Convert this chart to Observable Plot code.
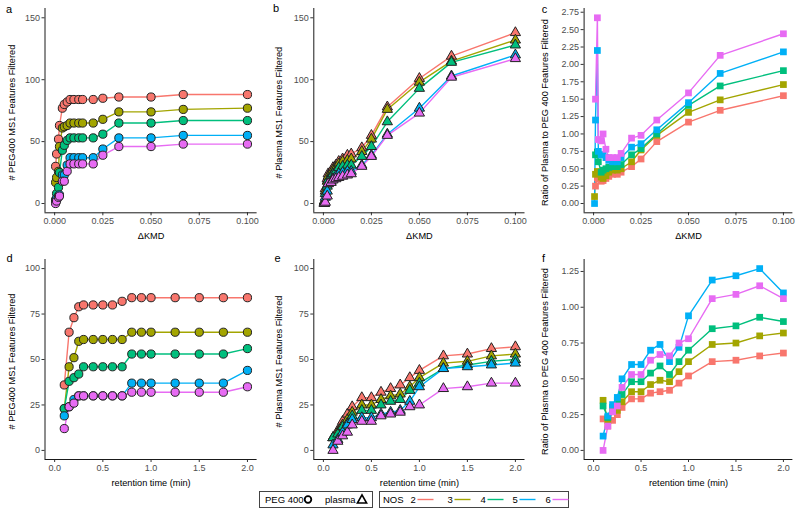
<!DOCTYPE html>
<html><head><meta charset="utf-8">
<script src="https://cdn.jsdelivr.net/npm/d3@7"></script>
<script src="https://cdn.jsdelivr.net/npm/@observablehq/plot@0.6"></script>
<style>
html,body{margin:0;padding:0;background:#fff;}
#chart{position:relative;width:800px;height:513px;background:#fff;overflow:hidden;font-family:"Liberation Sans",Arial,sans-serif;}
.panel{position:absolute;}
.panel svg{display:block;max-width:none;}
#legend{position:absolute;left:0;top:489px;}
</style></head><body><div id="chart"></div>
<script>
// ---------- data ----------
const NOS = ["2", "3", "4", "5", "6"];
const NOS_COLORS = ["#F8766D", "#A3A500", "#00BF7D", "#00B0F6", "#E76BF3"];

const deltaKMD = [0.0005, 0.001, 0.002, 0.0025, 0.004, 0.005, 0.0065, 0.008, 0.01, 0.0125, 0.0145, 0.02, 0.025, 0.0333, 0.05, 0.0667, 0.1];
const retentionTime = [0.1, 0.15, 0.2, 0.25, 0.3, 0.4, 0.5, 0.6, 0.7, 0.8, 0.9, 1.0, 1.25, 1.5, 1.75, 2.0];

// panel a: # PEG400 MS1 features vs dKMD (rows = NOS 2..6)
const peg400_kmd = [
  [30, 40, 52, 63, 77, 80, 82, 84, 84, 84, 84, 84, 85, 86, 86, 88, 88],
  [17, 21, 26, 46, 61, 62, 63, 65, 65, 65, 65, 65, 68, 74, 74, 76, 77],
  [3, 8, 13, 25, 43, 47, 51, 53, 53, 53, 53, 53, 56, 65, 65, 67, 67],
  [2, 4, 6, 7, 23, 23, 31, 37, 37, 37, 37, 37, 44, 53, 53, 55, 55],
  [0, 2, 5, 6, 18, 18, 26, 32, 32, 32, 32, 32, 39, 46, 46, 48, 48]
];
// panel b: # plasma MS1 features vs dKMD
const plasma_kmd = [
  [2, 12, 20, 24, 26, 29, 31, 34, 36, 39, 40, 45, 55, 78, 101, 119, 138],
  [1, 10, 18, 22, 24, 27, 29, 32, 34, 35, 36, 42, 52, 76, 98, 115, 132],
  [1, 8, 14, 19, 22, 24, 26, 29, 30, 31, 31, 38, 46, 66, 93, 114, 128],
  [0, 5, 10, 16, 18, 20, 22, 24, 25, 26, 26, 31, 39, 56, 77, 103, 120],
  [0, 1, 6, 16, 17, 19, 20, 21, 22, 23, 24, 30, 38, 55, 73, 102, 117]
];
// panel c: ratio plasma / PEG 400 vs dKMD
const ratio_kmd = [
  [null, 0.25, 0.37, 0.35, 0.32, 0.33, 0.36, 0.39, 0.42, 0.42, 0.45, 0.53, 0.64, 0.89, 1.17, 1.34, 1.55],
  [0.10, 0.42, 0.46, 0.45, 0.38, 0.36, 0.40, 0.45, 0.48, 0.48, 0.50, 0.60, 0.77, 0.98, 1.31, 1.49, 1.71],
  [null, 0.70, 0.74, 0.60, 0.45, 0.48, 0.50, 0.52, 0.53, 0.53, 0.56, 0.70, 0.79, 1.00, 1.41, 1.69, 1.91],
  [0.00, 1.20, 2.20, 0.75, 0.70, 0.70, 0.66, 0.62, 0.60, 0.60, 0.66, 0.81, 0.86, 1.06, 1.45, 1.87, 2.18],
  [null, 1.50, 2.67, 0.92, 0.90, 1.00, 0.78, 0.66, 0.66, 0.66, 0.72, 0.94, 0.98, 1.20, 1.59, 2.13, 2.44]
];
// panel d: # PEG400 MS1 features vs retention time
const peg400_rt = [
  [36, 65, 73, 79, 80, 80, 80, 80, 82, 84, 84, 84, 84, 84, 84, 84],
  [23, 46, 51, 60, 61, 61, 61, 61, 61, 65, 65, 65, 65, 65, 65, 65],
  [23, 38, 40, 42, 46, 46, 46, 46, 46, 53, 53, 53, 53, 53, 53, 56],
  [19, 24, 28, 30, 30, 30, 30, 30, 30, 37, 37, 37, 37, 37, 37, 44],
  [12, 24, 26, 30, 30, 30, 30, 30, 30, 32, 32, 32, 32, 32, 32, 35]
];
// panel e: # plasma MS1 features vs retention time
const plasma_rt = [
  [7, 11, 16, 20, 24, 29, 29, 32, 34, 36, 40, 44, 52, 53, 56, 57],
  [7, 10, 14, 17, 21, 25, 25, 28, 30, 31, 35, 40, 48, 49, 52, 53],
  [7, 9, 13, 15, 19, 22, 22, 25, 27, 28, 33, 37, 45, 47, 49, 50],
  [3, 6, 10, 14, 17, 18, 18, 20, 21, 22, 27, 35, 45, 46, 47, 48],
  [0, 5, 8, 10, 14, 16, 16, 19, 20, 21, 24, 25, 34, 35, 37, 37]
];
// panel f: ratio plasma / PEG 400 vs retention time
const ratio_rt = [
  [0.22, 0.17, 0.21, 0.25, 0.30, 0.36, 0.36, 0.40, 0.41, 0.42, 0.47, 0.52, 0.62, 0.63, 0.66, 0.68],
  [0.35, 0.21, 0.27, 0.28, 0.34, 0.41, 0.41, 0.46, 0.49, 0.48, 0.55, 0.62, 0.74, 0.75, 0.80, 0.82],
  [0.31, 0.23, 0.30, 0.35, 0.39, 0.48, 0.48, 0.54, 0.59, 0.53, 0.62, 0.70, 0.85, 0.87, 0.93, 0.90],
  [0.10, 0.24, 0.32, 0.37, 0.50, 0.60, 0.60, 0.70, 0.74, 0.62, 0.72, 0.94, 1.19, 1.22, 1.27, 1.10],
  [0.00, 0.17, 0.27, 0.31, 0.44, 0.53, 0.53, 0.63, 0.67, 0.66, 0.75, 0.78, 1.06, 1.09, 1.15, 1.06]
];

const kmdTicks = [0, 0.025, 0.05, 0.075, 0.1];
const rtTicks = [0, 0.5, 1.0, 1.5, 2.0];
const countTicksTop = [0, 50, 100, 150];
const countTicksBottom = [0, 25, 50, 75, 100];
const ratioTicksTop = [0, 0.25, 0.5, 0.75, 1.0, 1.25, 1.5, 1.75, 2.0, 2.25, 2.5, 2.75];
const ratioTicksBottom = [0, 0.25, 0.5, 0.75, 1.0, 1.25];

const TITLE_PEG = "# PEG400 MS1 Features Filtered";
const TITLE_PLASMA = "# Plasma MS1 Features Filtered";
const TITLE_RATIO = "Ratio of Plasma to PEG 400 Features Filtered";

// ---------- layout ----------
const FONT = '"Liberation Sans", Arial, Helvetica, sans-serif';
const COLS = [
  {left: 0, width: 265, mL: 44.5, mR: 8.4, titleDx: -32.5},
  {left: 265, width: 265, mL: 48.3, mR: 5.5, titleDx: -35},
  {left: 530, width: 270, mL: 53.6, mR: 7.6, titleDx: -38.7}
];
const ROWS = [
  {top: 0, height: 245, mT: 8, mB: 32.7},
  {top: 250, height: 240, mT: 9, mB: 31}
];
const SHAPES = {
  circle: {symbol: "circle", r: 4.1, stroke: "#222", strokeWidth: 1},
  triangle: {symbol: "triangle", r: 3.8, stroke: "#222", strokeWidth: 1},
  square: {symbol: "square", r: 3.8, stroke: "none", strokeWidth: 0}
};

function rowsOf(xs, series) {
  const out = [];
  series.forEach((vals, i) => vals.forEach((v, j) => {
    if (v != null) out.push({x: xs[j], y: v, nos: NOS[i]});
  }));
  return out;
}

const chart = document.getElementById("chart");
const CENTER = {textAnchor: "middle", lineAnchor: "middle", fill: "#000"};

function makePanel(p) {
  const col = COLS[p.col], row = ROWS[p.row];
  const data = rowsOf(p.xs, p.series);
  const sh = SHAPES[p.shape];
  const fx = col.left + col.mL, fy = row.top + row.mT;
  const svg = Plot.plot({
    width: col.width, height: row.height,
    marginLeft: col.mL, marginRight: col.mR, marginTop: row.mT, marginBottom: row.mB,
    x: {domain: p.xDomain},
    y: {domain: p.yDomain},
    color: {type: "ordinal", domain: NOS, range: NOS_COLORS},
    style: {fontFamily: FONT, background: "transparent", overflow: "visible"},
    marks: [
      Plot.axisX({ticks: p.xTicks, tickFormat: d3.format(p.xFmt), tickSize: 3, tickPadding: 2,
        label: null, fontSize: 9, color: "#4d4d4d", stroke: "#333"}),
      Plot.axisY({ticks: p.yTicks, tickFormat: d3.format(p.yFmt), tickSize: 3, tickPadding: 2,
        label: null, fontSize: 9, color: "#4d4d4d", stroke: "#333"}),
      Plot.ruleX([p.xDomain[0]], {stroke: "#1a1a1a", strokeWidth: 1}),
      Plot.ruleY([p.yDomain[0]], {stroke: "#1a1a1a", strokeWidth: 1}),
      Plot.line(data, {x: "x", y: "y", z: "nos", stroke: "nos", strokeWidth: 1.4, strokeLinejoin: "round"}),
      Plot.dot(data, {x: "x", y: "y", fill: "nos", symbol: sh.symbol, r: sh.r,
        stroke: sh.stroke, strokeWidth: sh.strokeWidth}),
      Plot.text([p.yTitle], {frameAnchor: "left", rotate: -90, dx: col.titleDx, dy: 2, fontSize: 9.2, ...CENTER}),
      Plot.text([p.xTitle], {frameAnchor: "bottom", dy: 23.5, fontSize: 9.2, ...CENTER}),
      Plot.text([p.letter], {frameAnchor: "top-left", dx: p.letterAt[0] - fx, dy: p.letterAt[1] - fy,
        fontSize: 11, ...CENTER})
    ]
  });
  const div = document.createElement("div");
  div.className = "panel";
  div.style.left = col.left + "px";
  div.style.top = row.top + "px";
  div.appendChild(svg);
  chart.appendChild(div);
}

const KMD_DOMAIN = [-0.005, 0.105];
const RT_DOMAIN = [-0.1, 2.1];

makePanel({col: 0, row: 0, xs: deltaKMD, series: peg400_kmd, shape: "circle",
  xDomain: KMD_DOMAIN, yDomain: [-7.5, 157.5], xTicks: kmdTicks, yTicks: countTicksTop,
  xFmt: ".3f", yFmt: "d", xTitle: "ΔKMD", yTitle: TITLE_PEG, letter: "a", letterAt: [8.5, 8.5]});
makePanel({col: 1, row: 0, xs: deltaKMD, series: plasma_kmd, shape: "triangle",
  xDomain: KMD_DOMAIN, yDomain: [-7.5, 157.5], xTicks: kmdTicks, yTicks: countTicksTop,
  xFmt: ".3f", yFmt: "d", xTitle: "ΔKMD", yTitle: TITLE_PLASMA, letter: "b", letterAt: [275.5, 8]});
makePanel({col: 2, row: 0, xs: deltaKMD, series: ratio_kmd, shape: "square",
  xDomain: KMD_DOMAIN, yDomain: [-0.1335, 2.8035], xTicks: kmdTicks, yTicks: ratioTicksTop,
  xFmt: ".3f", yFmt: ".2f", xTitle: "ΔKMD", yTitle: TITLE_RATIO, letter: "c", letterAt: [544, 9]});
makePanel({col: 0, row: 1, xs: retentionTime, series: peg400_rt, shape: "circle",
  xDomain: RT_DOMAIN, yDomain: [-5, 105], xTicks: rtTicks, yTicks: countTicksBottom,
  xFmt: ".1f", yFmt: "d", xTitle: "retention time (min)", yTitle: TITLE_PEG, letter: "d", letterAt: [9, 258]});
makePanel({col: 1, row: 1, xs: retentionTime, series: plasma_rt, shape: "triangle",
  xDomain: RT_DOMAIN, yDomain: [-5, 105], xTicks: rtTicks, yTicks: countTicksBottom,
  xFmt: ".1f", yFmt: "d", xTitle: "retention time (min)", yTitle: TITLE_PLASMA, letter: "e", letterAt: [277, 258]});
makePanel({col: 2, row: 1, xs: retentionTime, series: ratio_rt, shape: "square",
  xDomain: RT_DOMAIN, yDomain: [-0.0635, 1.3335], xTicks: rtTicks, yTicks: ratioTicksBottom,
  xFmt: ".1f", yFmt: ".2f", xTitle: "retention time (min)", yTitle: TITLE_RATIO, letter: "f", letterAt: [543, 258]});

// ---------- legend ----------
const legendLabelX = [410.5, 447.5, 480.5, 512.5, 545.5];
let lg = `<svg id="legend" width="800" height="22" xmlns="http://www.w3.org/2000/svg" font-family='${FONT}' font-size="9.5">`;
lg += `<rect x="259.5" y="2.5" width="113" height="16" fill="#fff" stroke="#444" stroke-width="1"/>`;
lg += `<text x="265" y="14">PEG 400</text>`;
lg += `<circle cx="308" cy="10.5" r="3.3" fill="none" stroke="#000" stroke-width="1.8"/>`;
lg += `<text x="325" y="14">plasma</text>`;
lg += `<path d="M362,5.8 L366.6,14 L357.4,14 Z" fill="none" stroke="#000" stroke-width="1.6" stroke-linejoin="miter"/>`;
lg += `<rect x="379.5" y="2.5" width="189" height="16" fill="#fff" stroke="#444" stroke-width="1"/>`;
lg += `<text x="383" y="14">NOS</text>`;
NOS.forEach((n, i) => {
  const x = legendLabelX[i];
  lg += `<text x="${x}" y="14">${n}</text>`;
  lg += `<line x1="${x + 7}" x2="${x + 23}" y1="10.5" y2="10.5" stroke="${NOS_COLORS[i]}" stroke-width="1.4"/>`;
});
lg += `</svg>`;
chart.insertAdjacentHTML("beforeend", lg);
</script></body></html>
